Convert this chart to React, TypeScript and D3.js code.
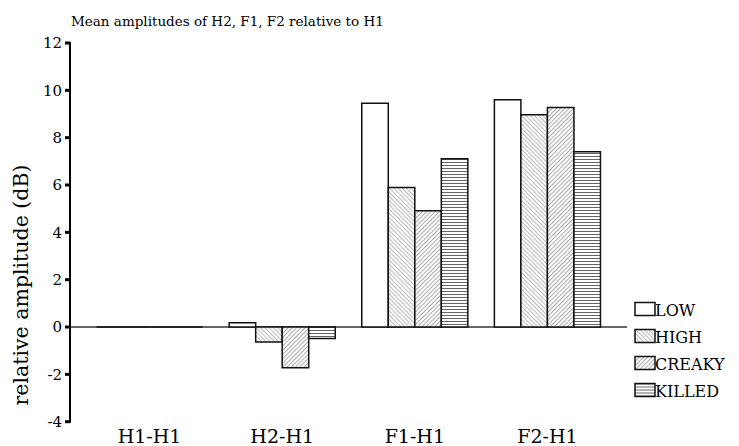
import React from "react";
import * as d3 from "d3";

const categories = ["H1-H1", "H2-H1", "F1-H1", "F2-H1"];
const seriesNames = ["LOW", "HIGH", "CREAKY", "KILLED"];
const lowValues = [0, 0.18, 9.45, 9.6];
const highValues = [0, -0.63, 5.89, 8.97];
const creakyValues = [0, -1.72, 4.91, 9.28];
const killedValues = [0, -0.49, 7.11, 7.41];
const yTicks = [-4, -2, 0, 2, 4, 6, 8, 10, 12];
const title = "Mean amplitudes of H2, F1, F2 relative to H1";
const yLabel = "relative amplitude (dB)";

const seriesValues = [lowValues, highValues, creakyValues, killedValues];
const fills = ["#fff", "url(#pHigh)", "url(#pCreaky)", "url(#pKilled)"];
const FONT = "'DejaVu Serif', serif";

export default function App() {
  const W = 739, H = 446;
  const x0 = 70, x1 = 627;
  const y = d3.scaleLinear().domain([-4, 12]).range([421.7, 43]);
  const xBand = d3.scaleBand<string>().domain(categories).range([x0, x1]).paddingInner(0.2).paddingOuter(0.2);
  const xInner = d3.scaleBand<string>().domain(seriesNames).range([0, xBand.bandwidth()]);

  return (
    <svg width={W} height={H} style={{ position: "absolute", left: 0, top: 0 }}>
      <defs>
        <pattern id="pHigh" width="3" height="3" patternUnits="userSpaceOnUse" patternTransform="rotate(-45)">
          <rect width="3" height="3" fill="#fff" />
          <line x1="0" y1="0" x2="0" y2="3" stroke="#666" strokeWidth="0.9" />
        </pattern>
        <pattern id="pCreaky" width="3" height="3" patternUnits="userSpaceOnUse" patternTransform="rotate(45)">
          <rect width="3" height="3" fill="#fff" />
          <line x1="0" y1="0" x2="0" y2="3" stroke="#555" strokeWidth="1" />
        </pattern>
        <pattern id="pKilled" width="3" height="3" patternUnits="userSpaceOnUse">
          <rect width="3" height="3" fill="#fff" />
          <line x1="0" y1="0.5" x2="3" y2="0.5" stroke="#666" strokeWidth="1" />
        </pattern>
      </defs>
      <rect width={W} height={H} fill="#fff" />
      <text x={71} y={26} fontFamily={FONT} fontSize={13.5} fill="#000">{title}</text>

      {/* zero line */}
      <line x1={x0} x2={x1} y1={y(0)} y2={y(0)} stroke="#666" strokeWidth={2} />

      {/* bars */}
      {categories.map((c, ci) => (
        <g key={c} transform={`translate(${xBand(c)},0)`}>
          {seriesNames.map((s, si) => {
            const v = seriesValues[si][ci];
            const bx = xInner(s) as number;
            const bw = xInner.bandwidth();
            const y0 = y(0), yv = y(v);
            const d = `M${bx},${y0}L${bx},${yv}L${bx + bw},${yv}L${bx + bw},${y0}Z`;
            return (
              <path key={s} d={d} fill={fills[si]} stroke="#111" strokeWidth={1.5} />
            );
          })}
        </g>
      ))}

      {/* y axis */}
      <line x1={x0} x2={x0} y1={y(12) - 1} y2={y(-4) + 1} stroke="#000" strokeWidth={2} />
      {yTicks.map((t) => (
        <g key={t}>
          <line x1={x0 - 5} x2={x0} y1={y(t)} y2={y(t)} stroke="#000" strokeWidth={3} />
          <text x={x0 - 8} y={y(t)} dy="0.35em" textAnchor="end" fontFamily={FONT} fontSize={15} fill="#000">{t}</text>
        </g>
      ))}
      <text transform={`translate(28,${285}) rotate(-90)`} textAnchor="middle" fontFamily={FONT} fontSize={20.5} fill="#000">{yLabel}</text>

      {/* x labels */}
      {categories.map((c) => (
        <text key={c} x={(xBand(c) as number) + xBand.bandwidth() / 2} y={443} textAnchor="middle" fontFamily={FONT} fontSize={19} fill="#000">{c}</text>
      ))}

      {/* legend */}
      {seriesNames.map((s, i) => (
        <g key={s} transform={`translate(635,${302.5 + i * 27})`}>
          <rect width={20} height={13} fill={fills[i]} stroke="#111" strokeWidth={1.5} />
          <text x={20} y={13} fontFamily={FONT} fontSize={16} fill="#000">{s}</text>
        </g>
      ))}
    </svg>
  );
}
